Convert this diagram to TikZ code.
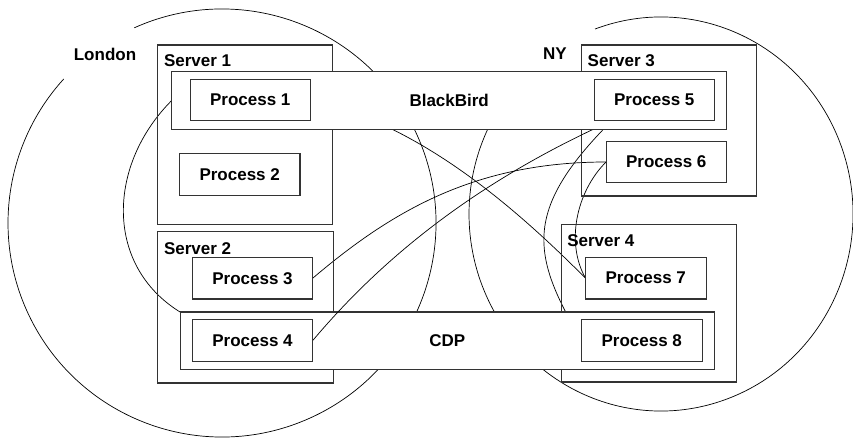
\documentclass[tikz,border=0pt]{standalone}
\usepackage{fontspec}
\setmainfont{Liberation Sans}
\pgfdeclarelayer{paper}
\pgfdeclarelayer{background}
\pgfdeclarelayer{frames}
\pgfdeclarelayer{overlinks}
\pgfsetlayers{paper,background,frames,overlinks,main}
\begin{document}
\begin{tikzpicture}[x=1pt,y=-1pt,
  every node/.style={font=\bfseries\fontsize{17}{20}\selectfont, inner sep=0pt, outer sep=0pt},
  server/.style={draw=black!80, line width=1.1pt, rectangle, minimum width=175pt},
  bus/.style={draw=black!80, line width=1.1pt, fill=white, rectangle, minimum height=57.6pt},
  proc/.style={draw=black!80, line width=1.1pt, fill=white, rectangle,
               minimum width=120.5pt, minimum height=41.5pt},
  link/.style={draw=black, line width=0.7pt},
  site/.style={draw=black, line width=0.7pt},
  lbl/.style={anchor=west}]
\begin{pgfonlayer}{paper}
  \fill[white] (0,0) rectangle (853,438);
\end{pgfonlayer}
\useasboundingbox (0,0) rectangle (853,438);

\begin{pgfonlayer}{frames}
  % servers (open frames)
  \node[server, minimum height=179.3pt] (s1) at (245.2,134.7) {};
  \node[server, minimum width=175.6pt, minimum height=151.5pt] (s2) at (245.5,307.2) {};
  \node[server, minimum height=151pt] (s3) at (669.2,120.5) {};
  \node[server, minimum width=174.7pt, minimum height=157.3pt] (s4) at (648.7,303.3) {};
  \node[lbl] (s1t) at (164,61) {Server 1};
  \node[lbl] (s2t) at (164,248.5) {Server 2};
  \node[lbl] (s3t) at (587.7,61) {Server 3};
  \node[lbl] (s4t) at (567.3,240.5) {Server 4};
  % lower message bus
  \node[bus, minimum width=534.3pt] (cdp) at (447.2,340.8) {CDP};
\end{pgfonlayer}

% site names
\node (london) at (105,54) {London};
\node (ny) at (555,54) {NY};

% upper message bus
\node[bus, minimum width=555pt] (bb) at (449.2,100.5) {BlackBird};

% processes
\node[proc] (p1) at (250.3,100) {Process 1};
\node[proc] (p2) at (239.7,174.7) {Process 2};
\node[proc] (p3) at (252.5,278.2) {Process 3};
\node[proc] (p4) at (252.5,340.5) {Process 4};
\node[proc] (p5) at (654.3,100) {Process 5};
\node[proc] (p6) at (666.3,162) {Process 6};
\node[proc] (p7) at (645.8,278.2) {Process 7};
\node[proc] (p8) at (641.8,340.5) {Process 8};

\begin{pgfonlayer}{background}
  % site boundaries, open next to their names
  \draw[site, shift={(222,223)}] (245.8:214) arc[start angle=245.8, end angle=582.3, radius=214];
  \draw[site, shift={(661,214)}] (249.9:192 and 197)
        arc[start angle=249.9, end angle=575, x radius=192, y radius=197];
  % links between processes
  \draw[link] (bb.west) .. controls +(-64,64) and +(-76,-47) .. (cdp.north west);
  \draw[link] (p1.east) .. controls +(115,25) and +(-60,-60) .. (p7.west);
  \draw[link] (p3.east) .. controls +(80,-68) and +(-130,0) .. (p6.west);
  \draw[link] (p5.206) .. controls +(-90,90) and +(-50,-85) .. (p8.west);
  \draw[link] (p6.west) .. controls +(-30,30) and +(-20,-35) .. (p7.west);
\end{pgfonlayer}
\begin{pgfonlayer}{overlinks}
  \draw[link] (p4.east) .. controls +(80,-95) and +(-120,54) .. (p5.206);
\end{pgfonlayer}
\end{tikzpicture}
\end{document}
